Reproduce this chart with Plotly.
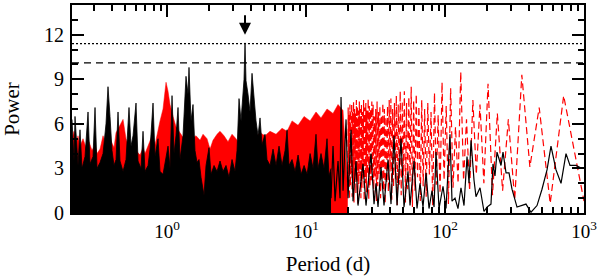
import numpy as np
import plotly.graph_objects as go

# ---------------- data ----------------
# Black periodogram, dense short-period part (envelope of the dense forest)
black_dense_period = [0.2072, 0.2142, 0.2178, 0.2289, 0.2366, 0.2446, 0.2571, 0.2702, 0.2793, 0.2935,
                      0.3034, 0.3136, 0.3296, 0.3464, 0.3640, 0.3762, 0.3889, 0.4020, 0.4156, 0.4296,
                      0.4441, 0.4590, 0.4825, 0.5070, 0.5328, 0.5508, 0.5694, 0.5984, 0.6186, 0.6501,
                      0.6720, 0.6947, 0.7302, 0.7548, 0.7932, 0.8199, 0.8614, 0.8906, 0.9359, 0.9674,
                      1.0167, 1.0510, 1.0864, 1.1230, 1.1607, 1.1999, 1.2403, 1.3033, 1.3695, 1.4158,
                      1.4395, 1.4881, 1.5384, 1.5900, 1.6437, 1.6990, 1.7564, 1.8459, 1.9080, 2.0054,
                      2.0731, 2.1787, 2.2896, 2.4062, 2.5287, 2.6577, 2.7930, 2.9354, 3.0850, 3.1891,
                      3.2962, 3.4075, 3.5222, 3.5810, 3.6409, 3.7018, 3.8264, 3.9552, 4.0883, 4.2259,
                      4.3685, 4.5155, 4.6675, 4.8245, 5.0699, 5.2405, 5.5081, 5.7894, 6.0850, 6.3958,
                      6.7224, 7.0657, 7.3039, 7.5502, 7.9353, 8.3405, 8.7665, 9.2141, 9.6847, 10.179,
                      10.699, 11.245, 11.800, 12.198, 12.820, 13.475, 14.163, 14.640, 15.134]
black_dense_power = [6.3, 3.5, 6.5, 3.2, 5.6, 3.0, 3.8, 6.8, 3.3, 3.8,
                     7.1, 3.0, 3.4, 4.0, 6.0, 8.5, 6.5, 4.2, 3.2, 3.6,
                     6.8, 3.5, 2.8, 3.6, 7.1, 4.5, 5.2, 7.4, 3.5, 3.0,
                     5.5, 2.8, 3.2, 4.3, 7.4, 3.8, 5.0, 2.8, 2.6, 3.4,
                     4.5, 3.0, 7.9, 4.0, 5.2, 7.1, 3.6, 5.2, 9.2, 8.0,
                     9.8, 6.2, 7.3, 4.2, 3.4, 3.6, 2.4, 1.2, 3.2, 4.4,
                     2.6, 3.2, 2.8, 3.5, 2.8, 3.2, 2.4, 3.6, 2.8, 4.2,
                     7.7, 6.2, 8.5, 9.0, 11.45, 8.9, 8.0, 6.8, 9.4, 7.5,
                     6.2, 5.2, 6.4, 4.6, 5.3, 3.6, 3.2, 4.3, 3.2, 4.5,
                     3.2, 4.2, 5.6, 3.2, 3.6, 2.8, 3.9, 2.6, 3.2, 2.6,
                     4.0, 3.0, 5.3, 3.0, 4.0, 3.0, 5.0, 2.5, 3.0]

# Black periodogram, resolved long-period part
black_long_period = [15.134, 15.644, 16.171, 16.996, 17.569, 17.862, 18.464, 19.407, 20.061, 21.08,
                     21.79, 22.89, 23.66, 25.71, 27.02, 29.36, 30.85, 31.89, 32.96, 34.64,
                     36.41, 38.90, 40.88, 42.97, 45.16, 48.25, 50.70, 54.18, 56.02, 59.84,
                     62.89, 66.09, 69.46, 73.04, 76.73, 80.63, 83.40, 86.14, 90.56, 96.74,
                     101.7, 108.6, 112.3, 118.0, 124.0, 130.3, 137.0, 144.0, 148.9, 153.9,
                     161.7, 167.1, 178.6, 190.8, 200.5, 214.2, 221.4, 228.9, 236.6, 252.9,
                     261.4, 274.8, 288.7, 303.4, 329.6, 352.2, 382.5, 415.6, 459.1, 498.6,
                     541.8, 578.8, 629.0, 683.3, 742.3, 793.0, 876.0, 967.4, 1000.0]
black_long_power = [1.0, 4.5, 0.8, 3.5, 1.0, 7.8, 1.5, 6.3, 1.0, 5.6,
                    0.8, 3.5, 0.5, 3.3, 0.5, 4.0, 0.6, 2.0, 0.4, 3.1,
                    0.5, 3.6, 0.6, 5.2, 0.5, 5.0, 0.4, 2.8, 0.5, 3.5,
                    0.3, 2.0, 0.4, 2.7, 0.3, 1.5, 0.4, 4.1, 0.3, 1.8,
                    0.3, 5.3, 0.8, 1.0, 0.3, 1.7, 0.5, 3.8, 2.0, 4.9,
                    2.2, 1.1, 1.7, 0.1, 0.4, 0.6, 3.3, 2.5, 4.1, 3.2,
                    4.1, 2.7, 2.7, 1.6, 0.4, 0.5, 0.6, 0.05, 0.5, 1.6,
                    2.9, 4.5, 2.9, 2.0, 4.0, 3.2, 3.2, 3.0, 3.0]

# Red periodogram, dense short-period part (envelope)
red_dense_period = [0.2072, 0.2142, 0.2214, 0.2289, 0.2366, 0.2487, 0.2614, 0.2747, 0.2887, 0.3034,
                    0.3136, 0.3296, 0.3464, 0.3640, 0.3889, 0.4156, 0.4296, 0.4515, 0.4825, 0.5070,
                    0.5328, 0.5694, 0.5984, 0.6394, 0.6720, 0.6947, 0.7302, 0.7801, 0.8199, 0.8614,
                    0.8906, 0.9359, 0.9674, 0.9836, 1.0167, 1.0510, 1.1046, 1.1607, 1.2403, 1.3251,
                    1.4158, 1.5130, 1.6166, 1.7275, 1.8155, 1.9400, 2.0390, 2.1428, 2.2896, 2.4062,
                    2.5711, 2.7470, 2.9354, 3.1366, 3.3513, 3.6409, 3.9552, 4.2966, 4.6675, 5.0699,
                    5.5081, 6.0850, 6.7224, 7.3039, 7.9353, 8.7665, 9.6847, 10.699, 11.800, 12.820,
                    14.163, 15.644, 16.996, 18.464, 19.97]
red_dense_power = [5.0, 5.5, 4.6, 5.2, 4.5, 5.0, 4.4, 4.8, 4.2, 4.6,
                   4.0, 4.3, 5.2, 4.6, 5.0, 4.4, 5.4, 5.8, 6.3, 5.0,
                   4.4, 4.0, 4.2, 3.9, 4.4, 4.0, 4.5, 5.2, 4.6, 5.6,
                   6.2, 7.0, 8.0, 8.8, 8.2, 7.3, 6.5, 5.8, 5.4, 5.0,
                   5.6, 5.0, 5.2, 4.9, 5.3, 5.0, 4.3, 4.9, 5.3, 5.5,
                   5.2, 4.8, 5.3, 5.0, 4.6, 4.4, 4.8, 5.1, 5.4, 5.2,
                   5.5, 5.3, 5.7, 5.5, 6.2, 5.9, 6.5, 6.2, 6.8, 6.4,
                   7.0, 6.7, 7.3, 6.9, 1.5]

# Red periodogram, resolved long-period part (alternating minima / maxima)
red_long_period = [19.97, 20.11, 20.26, 20.40, 20.55, 20.70, 20.85, 21.00, 21.16, 21.31,
                   21.47, 21.64, 21.80, 21.97, 22.14, 22.31, 22.49, 22.67, 22.85, 23.03,
                   23.22, 23.41, 23.60, 23.80, 24.00, 24.20, 24.41, 24.62, 24.83, 25.05,
                   25.27, 25.50, 25.73, 25.96, 26.20, 26.44, 26.69, 26.94, 27.20, 27.46,
                   27.73, 28.00, 28.28, 28.56, 28.85, 29.14, 29.44, 29.75,
                   30.06, 30.38, 30.71, 31.04, 31.38, 31.73, 32.09, 32.45, 32.83, 33.21,
                   33.60, 34.00, 34.41, 34.83, 35.26, 35.70, 36.15, 36.62, 37.09, 37.58,
                   38.08, 38.59, 39.12, 39.67, 40.23, 40.80, 41.39, 42.00, 42.63, 43.27,
                   43.94, 44.63, 45.33, 46.06, 46.82, 47.60, 48.41, 49.24, 50.11, 51.00,
                   51.93, 52.89, 53.89, 54.92, 56.00, 57.12, 58.29, 59.50, 60.77, 62.09,
                   63.47, 64.91, 66.42, 68.00, 69.66, 71.40, 73.23, 75.16, 77.19, 79.33,
                   81.60, 84.00, 86.55, 89.25, 92.13, 95.20, 98.48, 102.0, 105.8, 109.8,
                   114.2, 119.0, 124.2, 129.8, 136.0, 142.8, 150.3, 158.7, 168.0, 178.5,
                   190.4, 204.0, 219.7, 238.0, 259.6, 285.6, 317.3, 357.0, 408.0, 476.0,
                   571.2, 714.0, 1000.0]
red_long_power = [1.5, 7.1, 2.2, 6.6, 0.9, 7.3, 1.8, 6.9, 2.7, 7.4,
                  1.1, 6.8, 2.0, 7.5, 0.7, 7.0, 2.4, 6.7, 1.3, 7.6,
                  2.1, 7.2, 0.6, 6.9, 1.9, 7.5, 2.5, 7.0, 1.0, 7.3,
                  1.7, 6.8, 2.3, 7.6, 0.8, 7.1, 2.0, 7.4, 1.4, 6.9,
                  2.6, 7.7, 0.9, 7.2, 1.8, 7.0, 2.2, 7.5,
                  2.0, 7.3, 1.2, 6.5, 2.4, 7.0, 0.8, 7.5, 1.8, 6.8,
                  2.6, 7.2, 1.0, 6.6, 2.2, 7.4, 1.5, 7.0, 0.6, 6.5,
                  2.0, 7.2, 1.4, 7.6, 2.8, 7.7, 0.9, 7.0, 1.7, 7.4,
                  2.3, 7.9, 0.5, 7.3, 1.9, 8.2, 1.2, 7.5, 2.5, 8.2,
                  0.7, 7.4, 1.6, 7.8, 2.1, 8.5, 0.4, 7.6, 1.5, 8.0,
                  2.4, 7.2, 0.8, 7.6, 1.8, 7.0, 1.1, 7.4, 2.6, 6.8,
                  0.5, 8.1, 1.9, 6.6, 1.3, 8.8, 2.2, 7.2, 0.6, 8.4,
                  1.7, 5.8, 2.0, 9.5, 2.2, 6.3, 1.5, 7.6, 2.6, 7.3,
                  2.0, 8.7, 1.2, 6.7, 1.5, 6.3, 0.9, 9.3, 3.1, 7.1,
                  0.65, 7.9, 0.8]

# Significance levels and the marked peak
fap_dotted = 11.4
fap_dashed = 10.1
peak_period = 3.64

x_major = [1, 10, 100, 1000]
x_major_text = ["10<sup>0</sup>", "10<sup>1</sup>", "10<sup>2</sup>", "10<sup>3</sup>"]
x_minor = [0.3, 0.4, 0.5, 0.6, 0.7, 0.8, 0.9,
           2, 3, 4, 5, 6, 7, 8, 9,
           20, 30, 40, 50, 60, 70, 80, 90,
           200, 300, 400, 500, 600, 700, 800, 900]
y_ticks = [0, 3, 6, 9, 12]

# ---------------- figure ----------------
RED = "#ff0000"
fig = go.Figure()

fig.add_trace(go.Scatter(x=red_dense_period, y=red_dense_power, mode="lines",
                         line=dict(color=RED, width=0.5), fill="tozeroy",
                         fillcolor=RED, hoverinfo="skip", showlegend=False))
fig.add_trace(go.Scatter(x=red_long_period, y=red_long_power, mode="lines",
                         line=dict(color=RED, width=1.2, dash="7px,4px"),
                         hoverinfo="skip", showlegend=False))
fig.add_trace(go.Scatter(x=black_dense_period, y=black_dense_power, mode="lines",
                         line=dict(color="black", width=0.8), fill="tozeroy",
                         fillcolor="black", hoverinfo="skip", showlegend=False))
fig.add_trace(go.Scatter(x=black_long_period, y=black_long_power, mode="lines",
                         line=dict(color="black", width=1.2),
                         hoverinfo="skip", showlegend=False))

fig.add_shape(type="line", xref="x domain", yref="y", x0=0, x1=1, y0=fap_dotted, y1=fap_dotted,
              line=dict(color="black", width=1.2, dash="2px,2px"))
fig.add_shape(type="line", xref="x domain", yref="y", x0=0, x1=1, y0=fap_dashed, y1=fap_dashed,
              line=dict(color="black", width=1.2, dash="7px,5px"))

fig.add_annotation(x=np.log10(peak_period), y=12.0, xref="x", yref="y",
                   ax=0, ay=-21, axref="pixel", ayref="pixel", showarrow=True,
                   arrowhead=2, arrowsize=1.2, arrowwidth=2, arrowcolor="black", text="")

font = dict(family="Liberation Serif, Times New Roman, serif", color="black")

fig.update_layout(
    width=600, height=277,
    margin=dict(l=72, r=16, t=5, b=64, autoexpand=False),
    paper_bgcolor="white", plot_bgcolor="white",
    font=dict(size=19, **font),
    showlegend=False,
    xaxis=dict(type="log", range=[np.log10(0.2072), 3.0], automargin=False,
               tickmode="array", tickvals=x_major, ticktext=x_major_text,
               ticks="inside", ticklen=12, tickwidth=2, tickcolor="black",
               minor=dict(tickmode="array", tickvals=x_minor, ticks="inside",
                          ticklen=6, tickwidth=1.5, tickcolor="black", showgrid=False),
               showline=True, linewidth=2, linecolor="black", mirror="ticks",
               showgrid=False, zeroline=False,
               title=dict(text="Period (d)", font=dict(size=21, **font), standoff=16),
               tickfont=dict(size=19, **font)),
    yaxis=dict(range=[0, 14], automargin=False, tickmode="array", tickvals=y_ticks,
               ticks="inside", ticklen=12, tickwidth=2, tickcolor="black",
               ticklabelstandoff=2,
               minor=dict(dtick=1, ticks="inside", ticklen=6, tickwidth=1.5,
                          tickcolor="black", showgrid=False),
               showline=True, linewidth=2, linecolor="black", mirror="ticks",
               showgrid=False, zeroline=False,
               title=dict(text="Power", font=dict(size=21, **font), standoff=30),
               tickfont=dict(size=20, **font)),
)

fig.write_html("out.html", config={"displayModeBar": False},
               post_script="document.body.style.margin='0';document.body.style.overflow='hidden';")
